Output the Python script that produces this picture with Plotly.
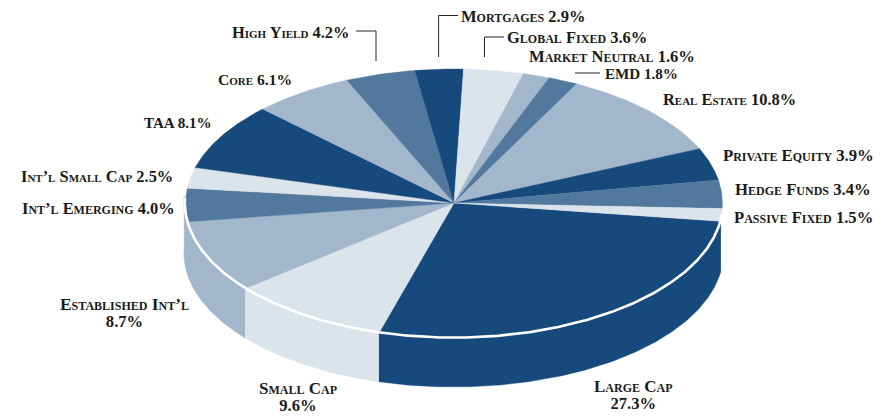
import numpy as np
import plotly.graph_objects as go

# ---- data (clockwise from Large Cap) ----
categories = ["Large Cap", "Small Cap", "Established Int’l", "Int’l Emerging", "Int’l Small Cap",
              "TAA", "Core", "High Yield", "Mortgages", "Global Fixed", "Market Neutral", "EMD",
              "Real Estate", "Private Equity", "Hedge Funds", "Passive Fixed"]
values = [27.3, 9.6, 8.7, 4.0, 2.5, 8.1, 6.1, 4.2, 2.9, 3.6, 1.6, 1.8, 10.8, 3.9, 3.4, 1.5]

# ---- styles ----
DARK, MID, SOFT, PALE = "#174A7C", "#52789E", "#A2B6CC", "#DBE3EB"
slice_colors = [DARK, PALE, SOFT, MID, PALE, DARK, SOFT, MID, DARK, PALE, SOFT, MID, SOFT, DARK, MID, PALE]
TEXT = "#1a1a1a"
FONT = "Liberation Serif"
FS = 16.6
LINE_FS = 13  # base size of two-line labels: sets their tighter line spacing

# ---- geometry (axes scaled so one unit is one page pixel; the page body has an 8px margin) ----
W, H, PAGE_MARGIN = 892, 417, 8
CX, CY, RX, RY = 454.0, 203.0, 268.4, 134.0
SCX, SRX, DEPTH = 453.6, 269.8, 50.0
START = -7.8  # degrees, ccw from east, slices run clockwise
SIDE_COUNT = 3  # slices whose wall is visible
SIDE_END = -183.0
RING = (-5.0, -182.0)


def arc(cx, cy, rx, ry, a0, a1):
    n = max(int(abs(a1 - a0) * 2), 2)
    t = np.radians(np.linspace(a0, a1, n))
    return cx + rx * np.cos(t), cy - ry * np.sin(t)


fig = go.Figure()
spans = np.array(values) / sum(values) * 360.0
edges = START - np.concatenate([[0], np.cumsum(spans)])


def poly(x, y, color):
    fig.add_trace(go.Scatter(x=x, y=y, mode="lines", fill="toself", fillcolor=color,
                             line=dict(width=0.4, color=color), hoverinfo="skip", showlegend=False))


# side walls
for i in range(SIDE_COUNT):
    a0 = edges[i]
    a1 = edges[i + 1] if i < SIDE_COUNT - 1 else SIDE_END
    xt, yt = arc(SCX, CY, SRX, RY, a0, a1)
    xb, yb = arc(SCX, CY + DEPTH, SRX, RY, a1, a0)
    poly(np.r_[xt, xb], np.r_[yt, yb], slice_colors[i])

# top face
for i in range(len(values)):
    xa, ya = arc(CX, CY, RX, RY, edges[i], edges[i + 1])
    poly(np.r_[CX, xa, CX], np.r_[CY, ya, CY], slice_colors[i])

# white rim
xr, yr = arc(CX - 0.2, CY, RX + 0.6, RY + 0.6, *RING)
fig.add_trace(go.Scatter(x=xr, y=yr, mode="lines", line=dict(color="white", width=2.6),
                         hoverinfo="skip", showlegend=False))

# callout leaders
leader_x = [[356, 376, 376], [438.6, 438.6, 458], [484.5, 484.5, 504], [575, 600]]
leader_y = [[31, 31, 61], [57, 15.5, 15.5], [57, 37, 37], [73, 73]]
for lx, ly in zip(leader_x, leader_y):
    fig.add_trace(go.Scatter(x=lx, y=ly, mode="lines", line=dict(color="#222222", width=1),
                             hoverinfo="skip", showlegend=False))

# single-line labels: x, y (middle), font size
inline_pos = {
    "Int’l Emerging": (22, 208, 16.45), "Int’l Small Cap": (21, 176, 16.4), "TAA": (144, 123, 15.1),
    "Core": (218, 79, 15.6), "High Yield": (232, 32, 16.4), "Mortgages": (461, 16, 16.5),
    "Global Fixed": (507, 37, 16.5), "Market Neutral": (529, 56, 16.6), "EMD": (605, 74, 15.1),
    "Real Estate": (663, 99, 16.4), "Private Equity": (723, 155, 16.7), "Hedge Funds": (735, 189, 16.7),
    "Passive Fixed": (734, 217, 16.6),
}
# two-line labels: x, y (middle), name font size
stacked_pos = {
    "Large Cap": (633, 394.5, 17.0), "Small Cap": (298, 397, 17.0),
    "Established Int’l": (124, 312.5, 17.4),
}


def label(x, y, text, anchor, size):
    fig.add_annotation(x=x, y=y, xref="x", yref="y", text=text, showarrow=False,
                       xanchor=anchor, yanchor="middle", align="center", borderpad=0, borderwidth=0,
                       font=dict(family=FONT, size=size, color=TEXT, weight=700, variant="small-caps"))


for name, v in zip(categories, values):
    if name in stacked_pos:
        x, y, size = stacked_pos[name]
        text = (f'<span style="font-size:{size}px">{name}</span><br>'
                f'<span style="font-size:{FS}px">{v:.1f}%</span>')
        label(x, y, text, "center", LINE_FS)
    else:
        x, y, size = inline_pos[name]
        label(x, y, f"{name} {v:.1f}%", "left", size)

fig.update_xaxes(range=[PAGE_MARGIN, W], visible=False, fixedrange=True)
fig.update_yaxes(range=[H, PAGE_MARGIN], visible=False, fixedrange=True)
fig.update_layout(width=W - PAGE_MARGIN, height=H - PAGE_MARGIN, margin=dict(l=0, r=0, t=0, b=0),
                  paper_bgcolor="white", plot_bgcolor="white", showlegend=False)
fig.write_html("out.html", config={"displayModeBar": False})
